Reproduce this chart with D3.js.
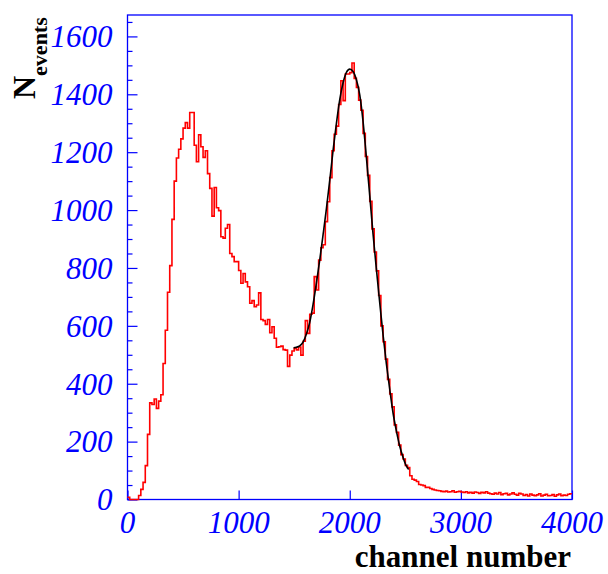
<!DOCTYPE html>
<html>
<head>
<meta charset="utf-8">
<script src="https://cdn.jsdelivr.net/npm/d3@7"></script>
<style>
  html, body { margin: 0; padding: 0; background: #ffffff; }
  svg { display: block; }
  .tick-label { font-family: 'Liberation Serif', 'Times New Roman', serif; font-style: italic; font-size: 31px; }
  .axis-title { font-family: 'Liberation Serif', 'Times New Roman', serif; font-weight: bold; }
</style>
</head>
<body>
<svg id="chart" width="608" height="574"></svg>
<script>
// Spectrum: 200 bins of 20 channels each, covering channels 0..4000
const binWidth = 20;
const counts = [
  8, 0, 0, 0, 0, 14, 35, 59, 117, 225,
  334, 328, 347, 315, 340, 362, 470, 585, 716, 808,
  968, 1100, 1180, 1210, 1246, 1283, 1302, 1283, 1337, 1337,
  1224, 1167, 1260, 1219, 1182, 1205, 1126, 1075, 979, 1078,
  1008, 998, 908, 903, 937, 950, 850, 839, 822, 822,
  791, 747, 781, 752, 735, 678, 687, 666, 672, 714,
  622, 618, 605, 622, 576, 597, 557, 526, 528, 530,
  518, 516, 460, 499, 513, 522, 517, 527, 499, 547,
  618, 574, 640, 644, 770, 724, 827, 870, 880, 960,
  1029, 1112, 1205, 1262, 1290, 1365, 1447, 1378, 1470, 1470,
  1475, 1508, 1455, 1424, 1380, 1345, 1265, 1185, 1120, 1030,
  935, 855, 790, 705, 600, 545, 485, 415, 365, 320,
  258, 232, 188, 155, 140, 118, 110, 82, 70, 67,
  62, 52, 50, 48, 42, 42, 38, 35, 33, 31,
  30, 28, 27, 29, 26, 27, 30, 25, 27, 28,
  26, 24, 27, 23, 25, 22, 26, 24, 21, 25,
  23, 27, 22, 20, 18, 22, 19, 24, 17, 20,
  21, 16, 19, 23, 18, 15, 21, 19, 14, 17,
  12, 19, 15, 13, 16, 20, 12, 15, 18, 13,
  14, 17, 11, 16, 19, 13, 15, 14, 18, 20
];

// Fitted peak curve, sampled at channel positions
const fitChannels = [1495, 1520, 1550, 1580, 1610, 1640, 1670, 1700, 1730, 1760,
  1790, 1820, 1850, 1880, 1910, 1940, 1970, 2000, 2030, 2060,
  2090, 2120, 2150, 2180, 2210, 2240, 2270, 2300, 2330, 2360,
  2390, 2420, 2450, 2480, 2510, 2530];
const fitValues = [524, 526, 531, 544, 572, 612, 674, 748, 828, 915,
  1005, 1103, 1206, 1300, 1382, 1440, 1476, 1487, 1479, 1450,
  1398, 1305, 1181, 1050, 916, 795, 679, 568, 468, 380,
  298, 236, 184, 145, 115, 104];

const xTicks = [0, 1000, 2000, 3000, 4000];
const yTicks = [0, 200, 400, 600, 800, 1000, 1200, 1400, 1600];
const xTitle = "channel number";
const yTitleMain = "N";
const yTitleSub = "events";

const xDomain = [0, 4000];
const yDomain = [0, 1674];

const plot = { left: 127.5, right: 572, top: 15, bottom: 499.5 };
const axisColor = "#0000ff";

const svg = d3.select("#chart");

const x = d3.scaleLinear().domain(xDomain).range([plot.left, plot.right]);
const y = d3.scaleLinear().domain(yDomain).range([plot.bottom, plot.top]);

// Frame
svg.append("rect")
  .attr("x", plot.left).attr("y", plot.top)
  .attr("width", plot.right - plot.left).attr("height", plot.bottom - plot.top)
  .attr("fill", "none").attr("stroke", axisColor).attr("stroke-width", 1.3);

// Y axis: major ticks every 200, minor every 50, drawn inward
const yMinor = d3.range(0, yDomain[1], 50).filter(v => v % 200 !== 0);
const yAxisMajor = d3.axisRight(y).tickValues(yTicks).tickSize(10).tickFormat("");
const yAxisMinor = d3.axisRight(y).tickValues(yMinor).tickSize(5).tickFormat("");
[yAxisMajor, yAxisMinor].forEach(ax => {
  const g = svg.append("g").attr("transform", `translate(${plot.left},0)`).call(ax);
  g.select(".domain").remove();
  g.selectAll("line").attr("stroke", axisColor).attr("stroke-width", 1.2);
});

// X axis: major ticks only, drawn inward
const xAxis = d3.axisTop(x).tickValues(xTicks).tickSize(9).tickFormat("");
const gx = svg.append("g").attr("transform", `translate(0,${plot.bottom})`).call(xAxis);
gx.select(".domain").remove();
gx.selectAll("line").attr("stroke", axisColor).attr("stroke-width", 1.2);

// Tick labels
svg.append("g").selectAll("text").data(yTicks).join("text")
  .attr("class", "tick-label")
  .attr("x", plot.left - 15)
  .attr("y", d => y(d))
  .attr("dy", "0.35em")
  .attr("text-anchor", "end")
  .attr("fill", axisColor)
  .text(d => d);

svg.append("g").selectAll("text").data(xTicks).join("text")
  .attr("class", "tick-label")
  .attr("x", d => x(d))
  .attr("y", 533)
  .attr("text-anchor", "middle")
  .attr("fill", axisColor)
  .text(d => d);

// Axis titles
svg.append("text")
  .attr("class", "axis-title")
  .attr("x", 571).attr("y", 567)
  .attr("text-anchor", "end")
  .style("font-size", "31px").attr("fill", "#000000")
  .text(xTitle);

const yt = svg.append("text")
  .attr("class", "axis-title")
  .attr("transform", "translate(35,99) rotate(-90)")
  .attr("fill", "#000000");
yt.append("tspan").style("font-size", "32px").text(yTitleMain);
yt.append("tspan").style("font-size", "22px").attr("dy", 12).text(yTitleSub);

// Histogram outline
const steps = counts.map((c, i) => [i * binWidth, c]);
steps.push([counts.length * binWidth, counts[counts.length - 1]]);
const stepLine = d3.line()
  .x(d => x(d[0])).y(d => y(d[1]))
  .curve(d3.curveStepAfter);
svg.append("path")
  .datum(steps)
  .attr("d", stepLine)
  .attr("fill", "none")
  .attr("stroke", "#ff0000")
  .attr("stroke-width", 1.6)
  .attr("stroke-linejoin", "miter");

// Fit curve
const fitPts = fitChannels.map((c, i) => [c, fitValues[i]]);
const fitLine = d3.line()
  .x(d => x(d[0])).y(d => y(d[1]))
  .curve(d3.curveMonotoneX);
svg.append("path")
  .datum(fitPts)
  .attr("d", fitLine)
  .attr("fill", "none")
  .attr("stroke", "#000000")
  .attr("stroke-width", 1.6);
</script>
</body>
</html>
